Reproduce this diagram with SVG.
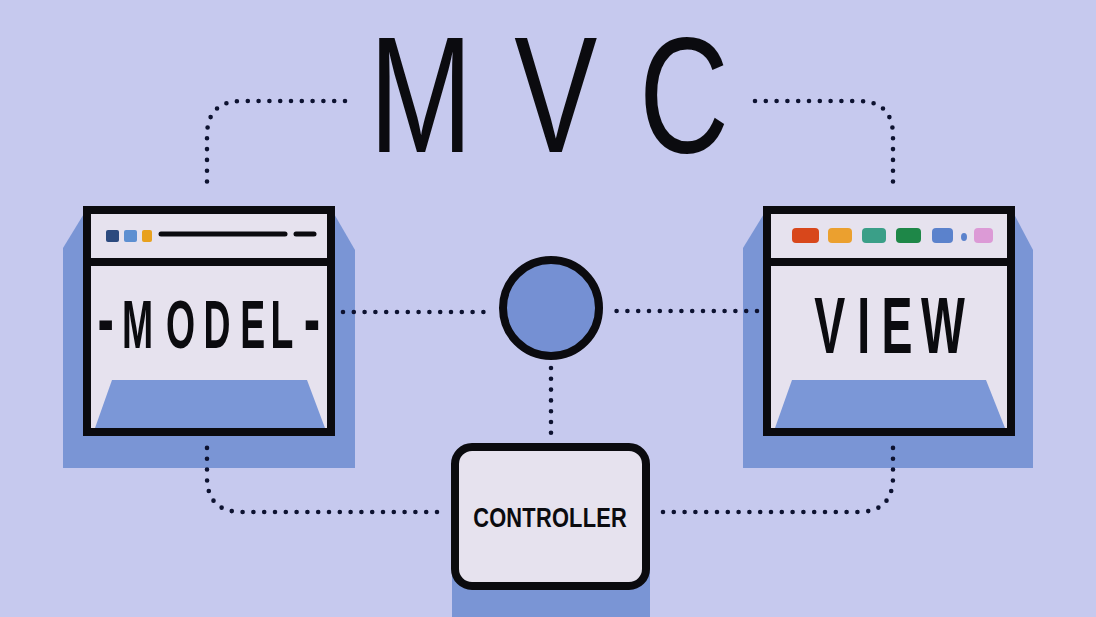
<svg xmlns="http://www.w3.org/2000/svg" width="1096" height="617" viewBox="0 0 1096 617">
<style>
.bg{fill:#c6c9ee}
.shadow{fill:#7a95d5}
.win{fill:#e6e2ee;stroke:#0b0b0f;stroke-width:8}
.bar{stroke:#0b0b0f;stroke-width:8}
.trap{fill:#7b97d7}
.line{stroke:#0b0b0f;stroke-width:5;stroke-linecap:round}
.lbl{font-family:"Liberation Sans",Arial,sans-serif;font-weight:bold;fill:#0b0b0f}
.dash{font-family:"Liberation Mono","Courier New",monospace;font-weight:bold}
.title{font-family:"Liberation Sans",Arial,sans-serif;font-weight:normal;fill:#0b0b0f;text-anchor:middle}
.dots{fill:none;stroke:#0d1230;stroke-width:4.6;stroke-linecap:round;stroke-dasharray:0 10.8}
</style>
<rect class="bg" x="0" y="0" width="1096" height="617"/>

<g id="title">
<text class="title" font-size="166" transform="translate(549,152) scale(0.75,1)" x="0" y="0" textLength="480" lengthAdjust="spacing">MVC</text>
</g>

<g id="model">
<polygon class="shadow" points="85,212 63,248 63,468 355,468 355,250 333,212"/>
<rect class="win" x="87" y="210" width="244" height="222"/>
<line class="bar" x1="87" y1="262" x2="331" y2="262"/>
<rect x="106" y="230" width="13" height="12" rx="2" fill="#2c4a7e"/>
<rect x="124" y="230" width="13" height="12" rx="2" fill="#5d8fd1"/>
<rect x="142" y="230" width="10" height="12" rx="2" fill="#e8a11e"/>
<line class="line" x1="161" y1="234" x2="285" y2="234"/>
<line class="line" x1="296" y1="234" x2="314" y2="234"/>
<polygon class="trap" points="112,380 307,380 325,428 95,428"/>
<text class="lbl" font-size="68" transform="translate(0,348) scale(0.55,1)" y="0"><tspan class="dash" font-size="80" x="168" dy="-2">-</tspan><tspan x="222 302 370 437 492" dy="2">MODEL</tspan><tspan class="dash" font-size="80" x="543" dy="-2">-</tspan></text>
</g>

<g id="view">
<polygon class="shadow" points="765,212 743,248 743,468 1033,468 1033,250 1013,212"/>
<rect class="win" x="767" y="210" width="244" height="222"/>
<line class="bar" x1="767" y1="262" x2="1011" y2="262"/>
<rect x="792" y="228" width="27" height="15" rx="4" fill="#d8471b"/>
<rect x="828" y="228" width="24" height="15" rx="4" fill="#eba02f"/>
<rect x="862" y="228" width="24" height="15" rx="4" fill="#3a9f88"/>
<rect x="896" y="228" width="25" height="15" rx="4" fill="#1e8748"/>
<rect x="932" y="228" width="21" height="15" rx="4" fill="#5b82cc"/>
<ellipse cx="964" cy="237" rx="3" ry="4" fill="#5b82cc"/>
<rect x="974" y="228" width="19" height="15" rx="4" fill="#dc9ad6"/>
<polygon class="trap" points="792,380 986,380 1005,428 775,428"/>
<text class="lbl" font-size="80" transform="translate(0,353) scale(0.58,1)" x="1404 1478 1520 1588" y="0">VIEW</text>
</g>

<g id="hub">
<circle cx="551" cy="308" r="48" fill="#7590d3" stroke="#0b0b0f" stroke-width="8"/>
</g>

<g id="controller">
<rect class="shadow" x="452" y="560" width="198" height="57"/>
<rect x="455" y="447" width="191" height="139" rx="17" fill="#e6e2ee" stroke="#0b0b0f" stroke-width="8"/>
<text class="lbl" font-size="28" text-anchor="middle" transform="translate(550,527) scale(0.78,1)" x="0" y="0" textLength="197" lengthAdjust="spacing">CONTROLLER</text>
</g>

<g id="connectors">
<path class="dots" d="M345 101 H242 Q207 101 207 136 V192"/>
<path class="dots" d="M755 101 H858 Q893 101 893 136 V192"/>
<path class="dots" d="M343 312 H489"/>
<path class="dots" d="M757 311 H613"/>
<path class="dots" d="M551 368 V437"/>
<path class="dots" d="M437 512 H242 Q207 512 207 477 V444"/>
<path class="dots" d="M663 512 H858 Q893 512 893 477 V444"/>
</g>
</svg>
